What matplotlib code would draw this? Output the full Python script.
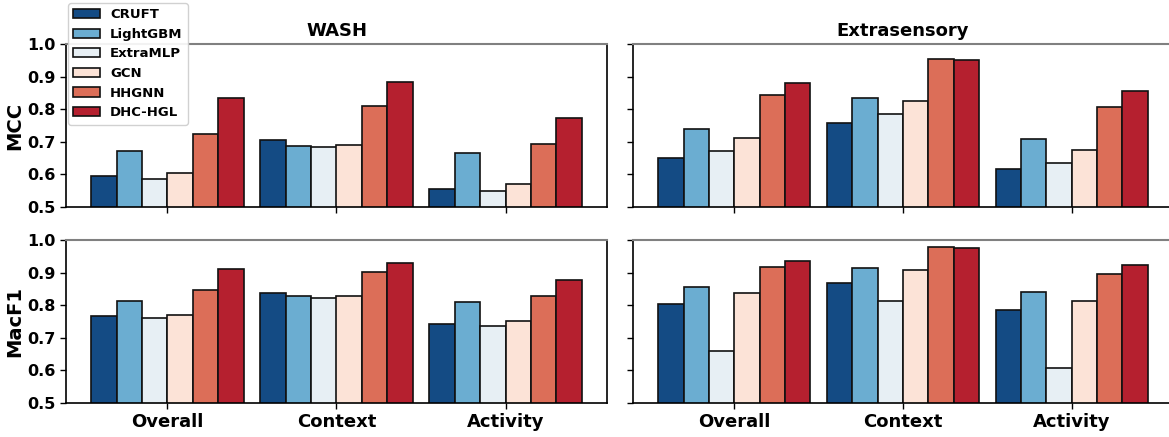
import numpy as np
from matplotlib import pyplot as plt

methods = ['CRUFT', 'LightGBM', 'ExtraMLP', 'GCN', 'HHGNN', 'DHC-HGL']
colors = ['#144b84', '#6badd1', '#e7eff4', '#fce3d7', '#dc6e58', '#b5202f']
groups = ['Overall', 'Context', 'Activity']
datasets = ['WASH', 'Extrasensory']
metrics = ['MCC', 'MacF1']

# rows: methods, cols: Overall / Context / Activity
wash_mcc = [[0.596, 0.704, 0.555],
            [0.671, 0.686, 0.666],
            [0.585, 0.684, 0.548],
            [0.603, 0.690, 0.572],
            [0.724, 0.811, 0.693],
            [0.834, 0.882, 0.772]]
extra_mcc = [[0.651, 0.758, 0.616],
             [0.740, 0.835, 0.710],
             [0.673, 0.784, 0.636],
             [0.712, 0.824, 0.675],
             [0.845, 0.953, 0.808],
             [0.879, 0.950, 0.855]]
wash_f1 = [[0.768, 0.836, 0.742],
           [0.814, 0.827, 0.810],
           [0.760, 0.823, 0.735],
           [0.771, 0.827, 0.752],
           [0.848, 0.901, 0.827],
           [0.911, 0.929, 0.876]]
extra_f1 = [[0.804, 0.869, 0.784],
            [0.856, 0.913, 0.839],
            [0.658, 0.813, 0.608],
            [0.838, 0.907, 0.813],
            [0.916, 0.978, 0.897],
            [0.937, 0.974, 0.924]]

data = [[wash_mcc, extra_mcc], [wash_f1, extra_f1]]

W, H = 1169, 437
fig = plt.figure(figsize=(W / 100, H / 100), dpi=100)

# axes boxes in pixels (left, right) / (top, bottom)
cols_px = [(66, 607), (633, 1173)]
rows_px = [(44, 207), (240, 403)]

x = np.arange(len(groups))
width = 0.15
handles = None
for r in range(2):
    for c in range(2):
        l, rr = cols_px[c]
        t, b = rows_px[r]
        ax = fig.add_axes([l / W, 1 - b / H, (rr - l) / W, (b - t) / H])
        vals = np.array(data[r][c])
        bars = []
        for i, m in enumerate(methods):
            bb = ax.bar(x + (i - 2.5) * width, vals[i], width,
                        color=colors[i], edgecolor='#111111', linewidth=1.2,
                        label=m)
            bars.append(bb)
        if handles is None:
            handles = bars
        ax.set_ylim(0.5, 1.0)
        ax.set_xlim(-0.6, 2.6)
        ax.set_yticks([0.5, 0.6, 0.7, 0.8, 0.9, 1.0])
        ax.set_xticks(x)
        ax.spines['top'].set_color('#808080')
        ax.spines['top'].set_linewidth(1.5)
        ax.spines['left'].set_linewidth(1.2)
        ax.spines['bottom'].set_linewidth(1.2)
        ax.spines['right'].set_linewidth(1.2)
        ax.tick_params(axis='both', length=4, width=1.0)
        if c == 0:
            ax.set_yticklabels(['%.1f' % v for v in ax.get_yticks()],
                               fontsize=11.5, fontweight='bold')
            ax.set_ylabel(metrics[r], fontsize=14, fontweight='bold', labelpad=2)
        else:
            ax.set_yticklabels([])
        if r == 1:
            ax.set_xticklabels(groups, fontsize=13, fontweight='bold')
        else:
            ax.set_xticklabels([])
            ax.set_title(datasets[c], fontsize=13, fontweight='bold', pad=6)

fig.legend(handles, methods, loc='upper left',
           bbox_to_anchor=(68 / W, 1 - 3 / H), borderaxespad=0,
           prop={'weight': 'bold', 'size': 9.5}, handlelength=2.0,
           handleheight=0.7, labelspacing=0.5, borderpad=0.4,
           handletextpad=0.8, framealpha=0.9)

plt.savefig('out.png', dpi=100)
